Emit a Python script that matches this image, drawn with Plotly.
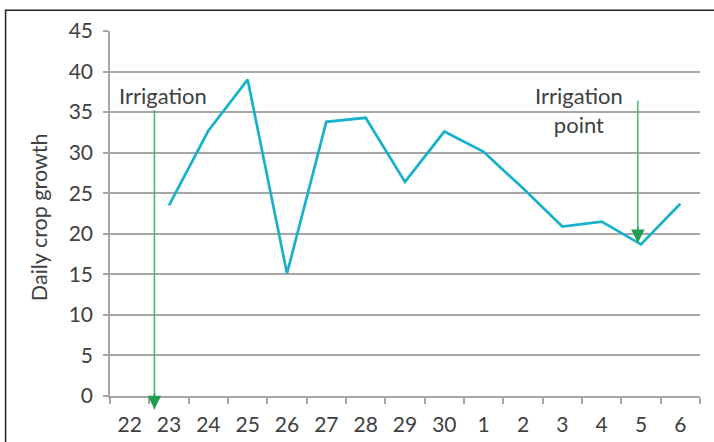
import plotly.graph_objects as go

# ---- data ----
days = ["22", "23", "24", "25", "26", "27", "28", "29", "30", "1", "2", "3", "4", "5", "6"]
growth = [None, 23.5, 32.7, 39.0, 15.1, 33.8, 34.3, 26.4, 32.6, 30.1, 25.6, 20.9, 21.5, 18.7, 23.7]
y_ticks = [0, 5, 10, 15, 20, 25, 30, 35, 40, 45]

TXT = "#404040"
GRID = "#a6a6a6"
FONT = "Lato"

fig = go.Figure()
fig.add_trace(go.Scatter(
    x=days, y=growth, mode="lines",
    line=dict(color="#17b2c9", width=2.7),
    connectgaps=False, showlegend=False, hoverinfo="skip",
))

# arrows: line (light green) + head (dark green)
def arrow(x, y_tail, y_tip):
    fig.add_annotation(x=x, y=y_tip, ax=x, ay=y_tail, xref="x", yref="y",
                       axref="x", ayref="y", text="", showarrow=True,
                       arrowhead=0, arrowwidth=1.5, arrowcolor="#3dba6e")
    fig.add_annotation(x=x, y=y_tip, ax=x, ay=y_tip + 2.2, xref="x", yref="y",
                       axref="x", ayref="y", text="", showarrow=True,
                       arrowhead=2, arrowsize=1.8, arrowwidth=1.5,
                       arrowcolor="#1e9e50")

arrow(0.63, 35.4, -1.64)
arrow(12.92, 36.6, 18.85)

fig.add_annotation(x=0.86, y=37.0, xref="x", yref="y", text="Irrigation",
                   showarrow=False, font=dict(family=FONT, size=22, color=TXT))
fig.add_annotation(x=11.43, y=35.2, xref="x", yref="y", text="Irrigation<br>point",
                   showarrow=False, font=dict(family=FONT, size=22, color=TXT))

# y-axis title
fig.add_annotation(x=-0.121, y=0.489, xref="paper", yref="paper",
                   xanchor="center", yanchor="middle",
                   text="Daily crop growth", textangle=-90, showarrow=False,
                   font=dict(family=FONT, size=21.5, color=TXT))

# outer frame
fig.add_shape(type="rect", xref="paper", yref="paper",
              x0=-0.177, x1=1.05, y0=-0.15, y1=1.057,
              line=dict(color="#222222", width=1.5), fillcolor="rgba(0,0,0,0)")

fig.update_layout(
    width=714, height=442,
    margin=dict(l=110, r=14, t=31, b=46, autoexpand=False),
    paper_bgcolor="white", plot_bgcolor="white",
    font=dict(family=FONT, size=21, color=TXT),
    showlegend=False,
)
fig.update_xaxes(
    type="category", categoryorder="array", categoryarray=days,
    range=[-0.5, len(days) - 0.5],
    tickson="boundaries", ticks="outside", ticklen=6, tickcolor=GRID, tickwidth=1.5,
    showgrid=False, showline=True, linecolor=GRID, linewidth=1.5,
    tickfont=dict(family=FONT, size=21, color=TXT), zeroline=False,
    ticklabelstandoff=9,
)
fig.update_yaxes(
    range=[0, 45], tickvals=y_ticks, ticks="outside", ticklen=5,
    tickcolor=GRID, tickwidth=1.5,
    showgrid=True, gridcolor=GRID, gridwidth=1.5,
    showline=True, linecolor=GRID, linewidth=1.5, zeroline=False,
    tickfont=dict(family=FONT, size=21, color=TXT), ticklabelstandoff=6,
)

fig.write_html("out.html", config={"displayModeBar": False},
               post_script="document.body.style.margin='0px';")
